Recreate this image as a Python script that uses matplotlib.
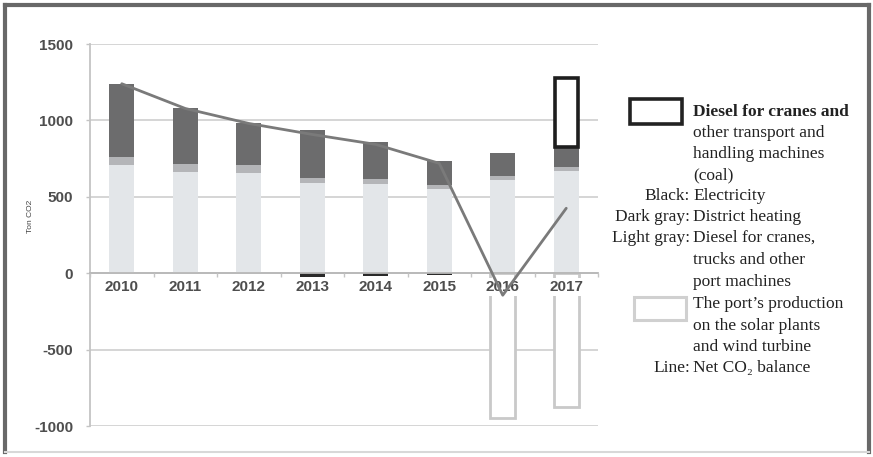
import matplotlib
matplotlib.use("Agg")
import matplotlib.pyplot as plt
from matplotlib.patches import Rectangle
from matplotlib.lines import Line2D
import numpy as np

plt.rcParams["axes.unicode_minus"] = False

# ---- data (ton CO2) ----
years = ["2010", "2011", "2012", "2013", "2014", "2015", "2016", "2017"]
light_diesel = [706, 660, 654, 590, 582, 549, 608, 667]
mid_band = [52, 52, 52, 31, 32, 26, 26, 26]
dark_heating = [477, 366, 274, 314, 242, 157, 150, 131]
black_electricity = [0, 0, 0, -25, -20, -12, 0, 0]
coal_diesel = [0, 0, 0, 0, 0, 0, 0, 451]
renewable_production = [0, 0, 0, 0, 0, 0, -948, -876]
net_balance = [1240, 1078, 980, 908, 843, 719, -144, 425]
y_ticks = [-1000, -500, 0, 500, 1000, 1500]

W, H = 873, 457
fig = plt.figure(figsize=(W / 100, H / 100), dpi=100)
fig.patch.set_facecolor("white")


def fx(px):
    return px / W


def fy(py):
    return 1 - py / H


ax = fig.add_axes([fx(90), fy(426), fx(598) - fx(90), fy(44) - fy(426)])
x = np.arange(len(years))
bw = 0.4

c_light = "#e3e6e9"
c_mid = "#b4b5b8"
c_dark = "#6c6c6d"
c_black = "#2a2a2a"

light = np.array(light_diesel)
mid = np.array(mid_band)
dark = np.array(dark_heating)

ax.bar(x, light, bw, color=c_light, zorder=2)
ax.bar(x, mid, bw, bottom=light, color=c_mid, zorder=2)
ax.bar(x, dark, bw, bottom=light + mid, color=c_dark, zorder=2)
ax.bar(x, black_electricity, bw, color=c_black, zorder=2)
coal = np.array(coal_diesel)
mask = coal != 0
ax.bar(x[mask], coal[mask], bw * 0.9, bottom=(light + mid + dark)[mask],
       facecolor="white", edgecolor="#1e1e1e", linewidth=2.6, zorder=3)
ren = np.array(renewable_production)
rmask = ren != 0
ax.bar(x[rmask], ren[rmask], bw, facecolor="white", edgecolor="#c9c9c9",
       linewidth=2.0, zorder=2)

ax.plot(x, net_balance, color="#7a7a7a", linewidth=2.0, zorder=6,
        solid_capstyle="round")

ax.set_xlim(-0.5, len(years) - 0.5)
ax.set_ylim(-1000, 1500)
ax.set_yticks(y_ticks)
ax.yaxis.grid(True, color="#d2d2d2", linewidth=1.3, zorder=0)
ax.set_axisbelow(True)
ax.xaxis.set_zorder(5)

for s in ("top", "right"):
    ax.spines[s].set_visible(False)
ax.spines["left"].set_color("#c4c4c4")
ax.spines["left"].set_linewidth(1.3)
ax.spines["bottom"].set_position(("data", 0))
ax.spines["bottom"].set_color("#b8b8b8")
ax.spines["bottom"].set_linewidth(1.3)
ax.spines["bottom"].set_zorder(5)

ax.set_xticks(x)
ax.set_xticklabels(years)
ax.set_xticks(np.arange(-0.5, len(years)), minor=True)
ax.tick_params(axis="x", which="major", length=0, pad=5)
ax.tick_params(axis="x", which="minor", length=3, color="#c4c4c4", width=1)
ax.tick_params(axis="y", length=3, color="#c4c4c4", width=1, pad=9)

tick_font = dict(family=["Liberation Sans", "DejaVu Sans"], weight="bold",
                 size=11, color="#4e4e4e")
for lab in ax.get_xticklabels() + ax.get_yticklabels():
    lab.set(**tick_font)
for lab in ax.get_xticklabels():
    lab.set_bbox(dict(facecolor="white", edgecolor="none", pad=1.5))

fig.text(fx(30), fy(216), "Ton CO2", rotation=90, ha="center", va="center",
         fontsize=6, color="#444444",
         family=["Liberation Sans", "DejaVu Sans"])

# ---- legend drawn as annotated text ----
serif = ["Liberation Serif", "DejaVu Serif"]
fs = 12.5
fig.patches.append(Rectangle((fx(630), fy(124)), fx(682) - fx(630),
                             fy(99) - fy(124), transform=fig.transFigure,
                             facecolor="white", edgecolor="#222222",
                             linewidth=2.6))
fig.patches.append(Rectangle((fx(634), fy(320)), fx(686) - fx(634),
                             fy(297) - fy(320), transform=fig.transFigure,
                             facecolor="white", edgecolor="#d0d0d0",
                             linewidth=2.2))

desc_x = 693
lines = [
    (112, "", "Diesel for cranes and", "bold"),
    (133, "", "other transport and", "normal"),
    (154, "", "handling machines", "normal"),
    (175, "", "(coal)", "normal"),
    (196, "Black:", "Electricity", "normal"),
    (217, "Dark gray:", "District heating", "normal"),
    (238, "Light gray:", "Diesel for cranes,", "normal"),
    (260, "", "trucks and other", "normal"),
    (282, "", "port machines", "normal"),
    (304, "", "The port\u2019s production", "normal"),
    (326, "", "on the solar plants", "normal"),
    (347, "", "and wind turbine", "normal"),
    (368, "Line:", "Net CO\u2082 balance", "normal"),
]
for py, prefix, text, wt in lines:
    if prefix:
        fig.text(fx(desc_x - 3), fy(py), prefix, ha="right", va="center",
                 fontsize=fs, family=serif, color="#222222")
    fig.text(fx(desc_x), fy(py), text, ha="left", va="center",
             fontsize=fs, family=serif, color="#222222", weight=wt)

# ---- outer frame ----
frame_c = "#686868"
fig.add_artist(Line2D([fx(5), fx(5)], [fy(5), fy(452)], color=frame_c,
                      linewidth=3, transform=fig.transFigure))
fig.add_artist(Line2D([fx(5), fx(869)], [fy(5), fy(5)], color=frame_c,
                      linewidth=3, transform=fig.transFigure))
fig.add_artist(Line2D([fx(869), fx(869)], [fy(5), fy(452)], color=frame_c,
                      linewidth=3, transform=fig.transFigure))
fig.add_artist(Line2D([fx(5), fx(869)], [fy(452), fy(452)], color="#d8d8d8",
                      linewidth=1.5, transform=fig.transFigure))

fig.savefig("out.png", dpi=100)
